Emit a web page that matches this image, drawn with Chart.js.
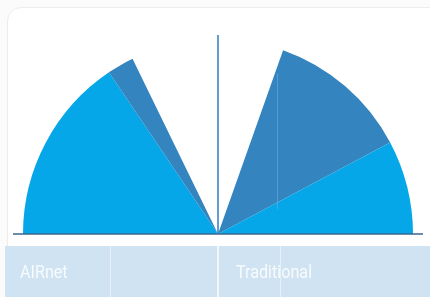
<!DOCTYPE html>
<html>
<head>
<meta charset="utf-8">
<script src="https://cdn.jsdelivr.net/npm/chart.js@4/dist/chart.umd.min.js"></script>
<style>
  html, body { margin: 0; padding: 0; background: #fbfbfb; }
  #wrap { position: relative; width: 430px; height: 297px; overflow: hidden; }
  #panel { position: absolute; left: 7px; top: 7px; width: 440px; height: 300px;
           background: #fff; border: 1px solid #ededed; border-radius: 14px; }
  canvas { position: absolute; left: 0; top: 0; }
</style>
</head>
<body>
<div id="wrap">
  <div id="panel"></div>
  <canvas id="fanChart" width="430" height="297"></canvas>
</div>
<script>
// groups shown in the bottom band
const groups = ['AIRnet', 'Traditional'];
// slice sizes in degrees of the half circle, left to right (gap slice is blank)
const sliceLabels = ['AIRnet main', 'AIRnet extra', 'gap', 'Traditional extra', 'Traditional main'];
const sliceValues = [56, 8, 45.5, 42.5, 28];
const sliceColors = ['#05a7e8', '#3384bf', 'rgba(0,0,0,0)', '#3384bf', '#05a7e8'];

// draws baseline, centre divider and label band
const decor = {
    id: 'decor',
    afterDatasetsDraw(chart) {
        const arc = chart.getDatasetMeta(0).data[0];
        const cx = arc.x, cy = arc.y, r = arc.outerRadius;
        const ctx = chart.ctx;
        ctx.save();

        // faint scan line inside the right fan
        ctx.strokeStyle = 'rgba(120,170,230,0.55)';
        ctx.lineWidth = 1;
        ctx.beginPath();
        ctx.moveTo(cx + 59.5, cy - 160);
        ctx.lineTo(cx + 59.5, cy - 25);
        ctx.stroke();

        // baseline
        ctx.strokeStyle = '#3a6690';
        ctx.lineWidth = 1.5;
        ctx.beginPath();
        ctx.moveTo(cx - r - 10, cy);
        ctx.lineTo(cx + r + 10, cy);
        ctx.stroke();

        // centre divider
        ctx.strokeStyle = '#2f7cc2';
        ctx.lineWidth = 1.5;
        ctx.beginPath();
        ctx.moveTo(cx, cy);
        ctx.lineTo(cx, cy - r - 4);
        ctx.stroke();

        // label band
        const bandTop = cy + 12;
        ctx.fillStyle = '#cfe3f2';
        ctx.fillRect(5, bandTop, chart.width - 5, chart.height - bandTop);
        ctx.strokeStyle = 'rgba(255,255,255,0.95)';
        ctx.lineWidth = 1.5;
        ctx.beginPath();
        ctx.moveTo(cx, bandTop);
        ctx.lineTo(cx, chart.height);
        ctx.stroke();
        ctx.strokeStyle = 'rgba(255,255,255,0.5)';
        ctx.lineWidth = 1;
        [cx - 108, cx + 62].forEach(function (x) {
            ctx.beginPath();
            ctx.moveTo(x + 0.5, bandTop);
            ctx.lineTo(x + 0.5, chart.height);
            ctx.stroke();
        });

        // condensed labels
        ctx.fillStyle = 'rgba(255,255,255,0.85)';
        ctx.font = '19px Roboto, sans-serif';
        ctx.textBaseline = 'alphabetic';
        [[groups[0], cx - r - 3], [groups[1], cx + 18]].forEach(function (g) {
            ctx.save();
            ctx.translate(g[1], bandTop + 32);
            ctx.scale(0.85, 1);
            ctx.fillText(g[0], 0, 0);
            ctx.restore();
        });
        ctx.restore();
    }
};

const ctx = document.getElementById('fanChart').getContext('2d');
const fanChart = new Chart(ctx, {
    type: 'pie',
    data: {
        labels: sliceLabels,
        datasets: [{
            data: sliceValues,
            backgroundColor: sliceColors,
            borderWidth: 0
        }]
    },
    options: {
        responsive: false,
        animation: false,
        rotation: -90,
        circumference: 180,
        layout: {
            padding: { left: 23, right: 17, top: 39, bottom: 63 }
        },
        plugins: {
            legend: { display: false },
            tooltip: { enabled: false }
        }
    },
    plugins: [decor]
});
</script>
</body>
</html>
